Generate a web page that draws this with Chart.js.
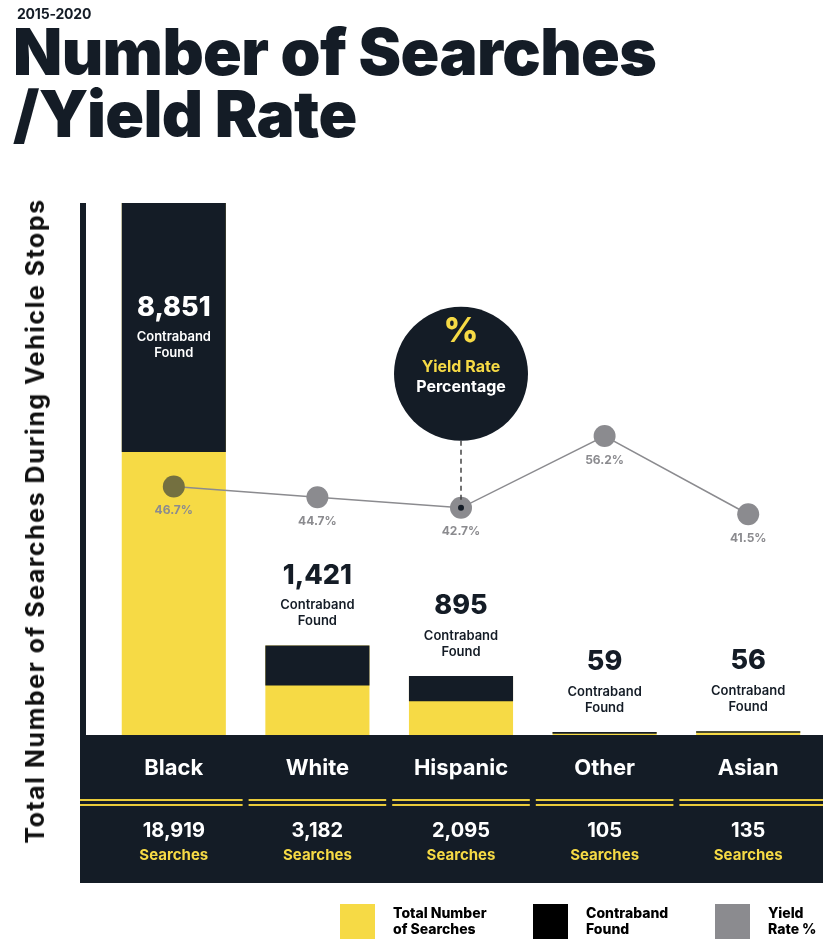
<!DOCTYPE html>
<html>
<head>
<meta charset="utf-8">
<script src="https://cdn.jsdelivr.net/npm/chart.js@4"></script>
<style>
  body { margin: 0; background: #fff; font-family: Inter, "Open Sans", sans-serif; color: #141c26; }
  #wrap { position: relative; width: 834px; height: 939px; overflow: hidden; }
  #myChart { position: absolute; left: 0; top: 0; }
  .sub { position: absolute; left: 17px; top: 5px; font-size: 14px; font-weight: 700; letter-spacing: -0.2px; }
  .title { position: absolute; left: 13px; top: 21px; font-size: 64px; font-weight: 900; line-height: 62px; letter-spacing: -0.6px; }
  .ytitle { position: absolute; left: 35px; top: 521px; transform: translate(-50%, -50%) rotate(-90deg);
            white-space: nowrap; font-family: Inter, sans-serif; font-size: 25px; font-weight: 700; color: #111; letter-spacing: 1.5px; }
  .leg { position: absolute; top: 904px; display: flex; align-items: flex-start; }
  .leg .sw { width: 35px; height: 35px; margin-right: 18px; }
  .leg .tx { font-size: 14px; font-weight: 800; line-height: 16px; color: #000; padding-top: 1px; }
</style>
</head>
<body>
<div id="wrap">
  <canvas id="myChart" width="834" height="939"></canvas>
  <div class="sub">2015-2020</div>
  <div class="title">Number of Searches<br>/Yield Rate</div>
  <div class="ytitle">Total Number of Searches During Vehicle Stops</div>
  <div class="leg" style="left:340px"><div class="sw" style="background:#f6da45"></div><div class="tx">Total Number<br>of Searches</div></div>
  <div class="leg" style="left:533px"><div class="sw" style="background:#000"></div><div class="tx">Contraband<br>Found</div></div>
  <div class="leg" style="left:715px"><div class="sw" style="background:#8b8b8f"></div><div class="tx">Yield<br>Rate %</div></div>
</div>
<script>
// data
const categories = ['Black', 'White', 'Hispanic', 'Other', 'Asian'];
const searches = [18919, 3182, 2095, 105, 135];
const contraband = [8851, 1421, 895, 59, 56];
const yieldRate = [46.7, 44.7, 42.7, 56.2, 41.5];

const NAVY = '#141c26';
const YELLOW = '#f6da45';
const GRAY = '#8b8b8f';
const FONT = 'Inter, "Open Sans", sans-serif';

// contraband drawn on top of each searches bar
const contrabandBars = searches.map((s, i) => [s - contraband[i], s]);

function fmt(n) { return n.toLocaleString('en-US'); }

const decor = {
  id: 'decor',
  afterDatasetsDraw(chart) {
    const ctx = chart.ctx;
    const area = chart.chartArea;
    const x = chart.scales.x;
    const darkMeta = chart.getDatasetMeta(1);
    const lineMeta = chart.getDatasetMeta(0);
    ctx.save();
    ctx.textAlign = 'center';
    ctx.textBaseline = 'middle';

    // left axis line and bottom band
    ctx.fillStyle = NAVY;
    ctx.fillRect(80, area.top, 6, 883 - area.top);
    ctx.fillRect(80, area.bottom, 743, 148);

    // yellow double rules, split per category
    ctx.fillStyle = '#e9cb3a';
    categories.forEach((c, i) => {
      const w = x.getPixelForValue(1) - x.getPixelForValue(0);
      let l = x.getPixelForValue(i) - w / 2 + 3;
      let r = x.getPixelForValue(i) + w / 2 - 3;
      if (i === 0) l = 80;
      if (i === categories.length - 1) r = 823;
      ctx.fillRect(l, 799, r - l, 2);
      ctx.fillRect(l, 804, r - l, 2);
    });

    // band texts
    categories.forEach((c, i) => {
      const cx = x.getPixelForValue(i);
      ctx.fillStyle = '#fff';
      ctx.font = '700 22px ' + FONT;
      ctx.fillText(c, cx, 768);
      ctx.font = '700 20px ' + FONT;
      ctx.fillText(fmt(searches[i]), cx, 831);
      ctx.fillStyle = YELLOW;
      ctx.font = '700 15px ' + FONT;
      ctx.fillText('Searches', cx, 855);
    });

    // contraband labels
    darkMeta.data.forEach((bar, i) => {
      const cx = bar.x;
      let y0;
      if (i === 0) {
        ctx.fillStyle = '#fff';
        y0 = (bar.y + bar.base) / 2 - 20;
      } else {
        ctx.fillStyle = NAVY;
        y0 = bar.y - 70;
      }
      ctx.font = '800 27px ' + FONT;
      ctx.fillText(fmt(contraband[i]), cx, y0);
      ctx.font = '600 13px ' + FONT;
      ctx.fillText('Contraband', cx, y0 + 30);
      ctx.fillText('Found', cx, y0 + 46);
    });

    // yield labels
    ctx.fillStyle = GRAY;
    ctx.font = '700 12px ' + FONT;
    lineMeta.data.forEach((pt, i) => {
      ctx.fillText(yieldRate[i].toFixed(1) + '%', pt.x, pt.y + 24);
    });

    // callout on Hispanic point
    const hp = lineMeta.data[2];
    const r = 67;
    const cy = hp.y - 134;
    ctx.strokeStyle = '#444';
    ctx.lineWidth = 1.5;
    ctx.setLineDash([5, 4]);
    ctx.beginPath();
    ctx.moveTo(hp.x, cy + r);
    ctx.lineTo(hp.x, hp.y - 4);
    ctx.stroke();
    ctx.setLineDash([]);
    ctx.fillStyle = NAVY;
    ctx.beginPath();
    ctx.arc(hp.x, hp.y, 3, 0, Math.PI * 2);
    ctx.fill();
    ctx.beginPath();
    ctx.arc(hp.x, cy, r, 0, Math.PI * 2);
    ctx.fill();
    ctx.fillStyle = YELLOW;
    ctx.font = '800 34px ' + FONT;
    ctx.fillText('%', hp.x, cy - 42);
    ctx.font = '700 16px ' + FONT;
    ctx.fillText('Yield Rate', hp.x, cy - 7);
    ctx.fillStyle = '#fff';
    ctx.fillText('Percentage', hp.x, cy + 13);
    ctx.restore();
  }
};

new Chart('myChart', {
  type: 'bar',
  data: {
    labels: categories,
    datasets: [
      {
        type: 'line',
        label: 'Yield Rate %',
        data: yieldRate,
        yAxisID: 'y2',
        borderColor: GRAY,
        borderWidth: 1.5,
        pointRadius: 11,
        pointBorderWidth: 0,
        pointBackgroundColor: ['#747040', GRAY, GRAY, GRAY, GRAY],
        order: 0
      },
      {
        label: 'Contraband Found',
        data: contrabandBars,
        backgroundColor: NAVY,
        grouped: false,
        order: 1
      },
      {
        label: 'Total Number of Searches',
        data: searches,
        backgroundColor: YELLOW,
        grouped: false,
        order: 2
      }
    ]
  },
  options: {
    responsive: false,
    animation: false,
    layout: { padding: { left: 102, right: 14, top: 203, bottom: 204 } },
    datasets: { bar: { categoryPercentage: 1, barPercentage: 0.725 } },
    scales: {
      x: { display: false },
      y: { display: false, min: 0, max: 18919 },
      y2: { display: false, min: 0, max: 100 }
    },
    plugins: { legend: { display: false }, tooltip: { enabled: false } }
  },
  plugins: [decor]
});
</script>
</body>
</html>
